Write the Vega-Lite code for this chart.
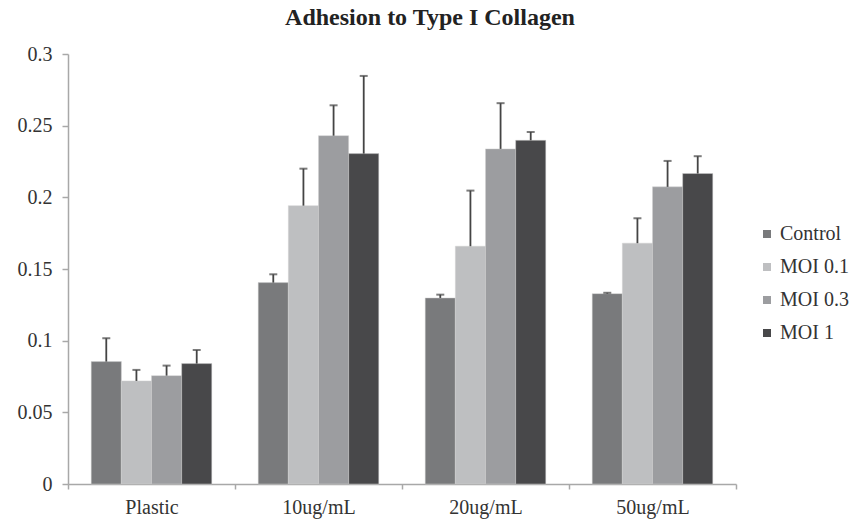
{
  "$schema": "https://vega.github.io/schema/vega-lite/v6.json",
  "width": 668,
  "height": 430,
  "autosize": "none",
  "padding": {"left": 68, "top": 54, "right": 115, "bottom": 38},
  "background": "white",
  "title": {
    "text": "Adhesion to Type I Collagen",
    "font": "Liberation Serif",
    "fontSize": 24,
    "fontWeight": "bold",
    "color": "#222",
    "anchor": "middle",
    "frame": "group",
    "dx": 28,
    "offset": 14
  },
  "data": {
    "values": [
      {"substrate": "Plastic", "group": "Control", "value": 0.0854, "upper": 0.1017},
      {"substrate": "Plastic", "group": "MOI 0.1", "value": 0.0719, "upper": 0.0796},
      {"substrate": "Plastic", "group": "MOI 0.3", "value": 0.0756, "upper": 0.0826},
      {"substrate": "Plastic", "group": "MOI 1", "value": 0.084, "upper": 0.0935},
      {"substrate": "10ug/mL", "group": "Control", "value": 0.1405, "upper": 0.1463},
      {"substrate": "10ug/mL", "group": "MOI 0.1", "value": 0.1942, "upper": 0.22},
      {"substrate": "10ug/mL", "group": "MOI 0.3", "value": 0.243, "upper": 0.2642},
      {"substrate": "10ug/mL", "group": "MOI 1", "value": 0.2305, "upper": 0.2847},
      {"substrate": "20ug/mL", "group": "Control", "value": 0.1298, "upper": 0.1321},
      {"substrate": "20ug/mL", "group": "MOI 0.1", "value": 0.1659, "upper": 0.2047},
      {"substrate": "20ug/mL", "group": "MOI 0.3", "value": 0.2338, "upper": 0.2657},
      {"substrate": "20ug/mL", "group": "MOI 1", "value": 0.2398, "upper": 0.2456},
      {"substrate": "50ug/mL", "group": "Control", "value": 0.1328, "upper": 0.1334},
      {"substrate": "50ug/mL", "group": "MOI 0.1", "value": 0.168, "upper": 0.1854},
      {"substrate": "50ug/mL", "group": "MOI 0.3", "value": 0.2073, "upper": 0.2254},
      {"substrate": "50ug/mL", "group": "MOI 1", "value": 0.2166, "upper": 0.2287}
    ]
  },
  "encoding": {
    "x": {
      "field": "substrate",
      "type": "nominal",
      "sort": ["Plastic", "10ug/mL", "20ug/mL", "50ug/mL"],
      "scale": {"paddingInner": 0, "paddingOuter": 0},
      "axis": {
        "title": null,
        "labelAngle": 0,
        "tickBand": "extent",
        "labelPadding": 8,
        "tickSize": 5,
        "ticks": true
      }
    },
    "xOffset": {
      "field": "group",
      "type": "nominal",
      "sort": ["Control", "MOI 0.1", "MOI 0.3", "MOI 1"],
      "scale": {"paddingInner": 0, "paddingOuter": 0.77}
    }
  },
  "layer": [
    {
      "mark": {"type": "bar", "stroke": "#d0d0d0", "strokeWidth": 0.8, "strokeOpacity": 0.6},
      "encoding": {
        "y": {
          "field": "value",
          "type": "quantitative",
          "scale": {"domain": [0, 0.3], "nice": false},
          "axis": {
            "title": null,
            "values": [0, 0.05, 0.1, 0.15, 0.2, 0.25, 0.3],
            "format": "~g",
            "grid": false,
            "labelPadding": 10,
            "tickSize": 6
          }
        },
        "color": {
          "field": "group",
          "type": "nominal",
          "sort": ["Control", "MOI 0.1", "MOI 0.3", "MOI 1"],
          "scale": {
            "domain": ["Control", "MOI 0.1", "MOI 0.3", "MOI 1"],
            "range": ["#797a7c", "#bebfc1", "#9c9da0", "#48484a"]
          },
          "legend": {
            "title": null,
            "orient": "none",
            "legendX": 689,
            "legendY": 170,
            "symbolType": "square",
            "symbolSize": 64,
            "symbolStrokeWidth": 0,
            "labelOffset": 3,
            "rowPadding": 13
          }
        }
      }
    },
    {
      "mark": {"type": "rule", "color": "#444", "strokeWidth": 1.8},
      "encoding": {
        "y": {"field": "value", "type": "quantitative"},
        "y2": {"field": "upper"}
      }
    },
    {
      "mark": {"type": "tick", "color": "#444", "thickness": 2, "size": 8, "orient": "horizontal"},
      "encoding": {
        "y": {"field": "upper", "type": "quantitative"}
      }
    }
  ],
  "config": {
    "view": {"stroke": null},
    "font": "Liberation Serif",
    "axis": {
      "labelFont": "Liberation Serif",
      "labelFontSize": 20,
      "labelColor": "#333",
      "domainColor": "#a8a8a8",
      "tickColor": "#a8a8a8",
      "domainWidth": 1.5,
      "tickWidth": 1.5
    },
    "legend": {
      "labelFont": "Liberation Serif",
      "labelFontSize": 20,
      "labelColor": "#333"
    }
  }
}
